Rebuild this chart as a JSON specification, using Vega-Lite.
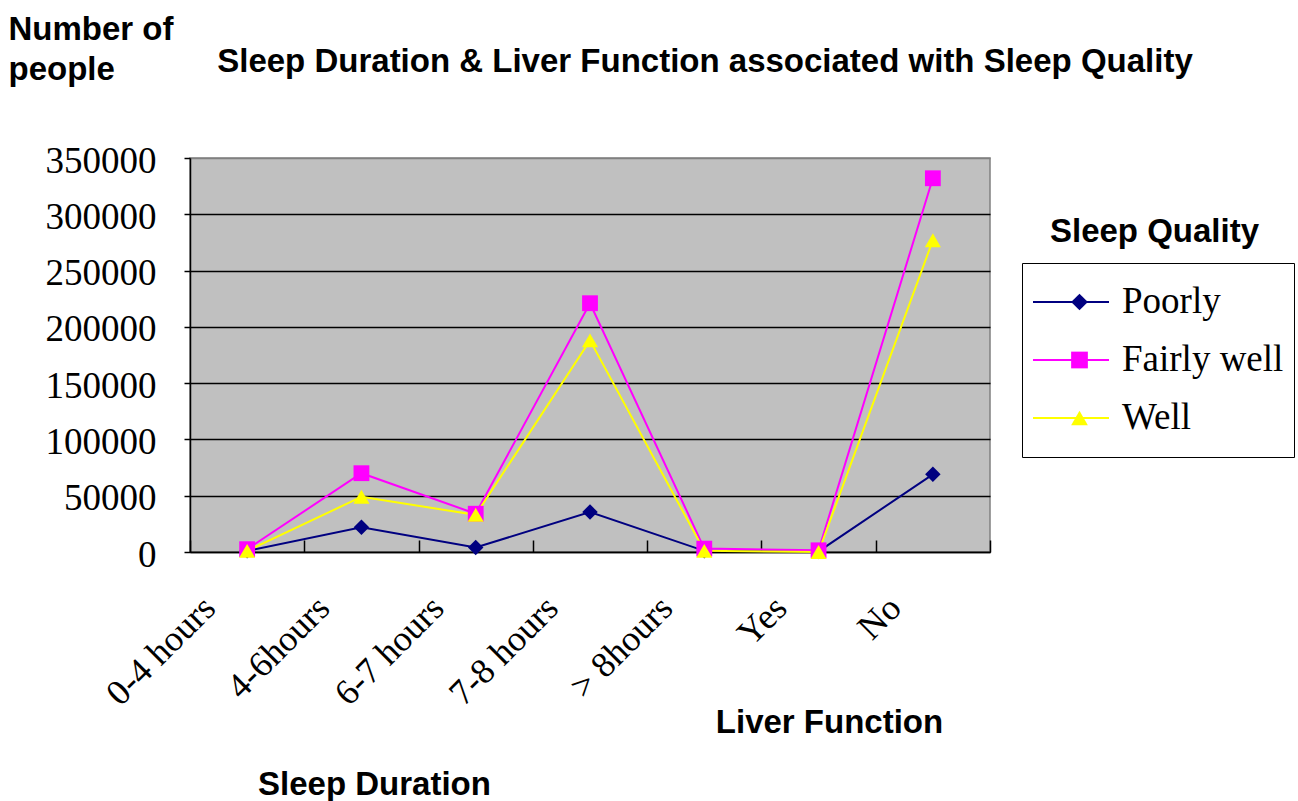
{
  "$schema": "https://vega.github.io/schema/vega-lite/v6.json",
  "width": 800,
  "height": 394,
  "autosize": {"type": "none"},
  "padding": {"left": 190, "top": 158, "right": 308, "bottom": 249},
  "background": "white",
  "title": {
    "text": "Sleep Duration & Liver Function associated with Sleep Quality",
    "font": "Liberation Sans",
    "fontWeight": "bold",
    "fontSize": 33,
    "color": "black",
    "anchor": "middle",
    "dx": 115,
    "baseline": "alphabetic",
    "offset": 0,
    "dy": 92
  },
  "config": {
    "view": {"fill": "#C0C0C0", "stroke": "#808080", "strokeWidth": 1.5},
    "axis": {"labelColor": "black", "titleColor": "black"}
  },
  "data": {
    "values": [
      {"cat": "0-4 hours", "i": 0, "q": "Poorly", "n": 1000},
      {"cat": "4-6hours", "i": 1, "q": "Poorly", "n": 22000},
      {"cat": "6-7 hours", "i": 2, "q": "Poorly", "n": 4000},
      {"cat": "7-8 hours", "i": 3, "q": "Poorly", "n": 35500},
      {"cat": "> 8hours", "i": 4, "q": "Poorly", "n": 1000},
      {"cat": "Yes", "i": 5, "q": "Poorly", "n": 500},
      {"cat": "No", "i": 6, "q": "Poorly", "n": 69000},
      {"cat": "0-4 hours", "i": 0, "q": "Fairly well", "n": 2500},
      {"cat": "4-6hours", "i": 1, "q": "Fairly well", "n": 70000},
      {"cat": "6-7 hours", "i": 2, "q": "Fairly well", "n": 34000},
      {"cat": "7-8 hours", "i": 3, "q": "Fairly well", "n": 221000},
      {"cat": "> 8hours", "i": 4, "q": "Fairly well", "n": 3000},
      {"cat": "Yes", "i": 5, "q": "Fairly well", "n": 1500},
      {"cat": "No", "i": 6, "q": "Fairly well", "n": 332000},
      {"cat": "0-4 hours", "i": 0, "q": "Well", "n": 1000},
      {"cat": "4-6hours", "i": 1, "q": "Well", "n": 49000},
      {"cat": "6-7 hours", "i": 2, "q": "Well", "n": 33000},
      {"cat": "7-8 hours", "i": 3, "q": "Well", "n": 188000},
      {"cat": "> 8hours", "i": 4, "q": "Well", "n": 1000},
      {"cat": "Yes", "i": 5, "q": "Well", "n": 0},
      {"cat": "No", "i": 6, "q": "Well", "n": 277000}
    ]
  },
  "layer": [
    {
      "mark": {"type": "line", "strokeWidth": 2},
      "encoding": {
        "x": {
          "field": "cat", "type": "nominal",
          "sort": ["0-4 hours", "4-6hours", "6-7 hours", "7-8 hours", "> 8hours", "Yes", "No"],
          "scale": {"type": "band", "paddingInner": 0, "paddingOuter": 0},
          "bandPosition": 0.5,
          "axis": {
            "orient": "bottom",
            "title": "Sleep Duration",
            "titleFont": "Liberation Sans", "titleFontWeight": "bold", "titleFontSize": 33,
            "titleX": 184, "titleY": 232, "titleAlign": "center", "titleBaseline": "middle", "titleAnchor": null,
            "labelAngle": -45, "labelAlign": "right", "labelBaseline": "middle",
            "labelFont": "Liberation Serif", "labelFontSize": 36,
            "labelOffset": -38, "labelPadding": 62,
            "labelFlush": false, "labelOverlap": false, "labelBound": false,
            "tickBand": "extent", "tickSize": -12, "tickColor": "black", "tickWidth": 1.5,
            "domainColor": "black", "domainWidth": 1.5, "grid": false
          }
        },
        "y": {
          "field": "n", "type": "quantitative",
          "scale": {"domain": [0, 350000], "nice": false},
          "axis": {
            "orient": "left",
            "values": [0, 50000, 100000, 150000, 200000, 250000, 300000, 350000],
            "format": "d",
            "title": ["Number of", "people"],
            "titleFont": "Liberation Sans", "titleFontWeight": "bold", "titleFontSize": 33,
            "titleAngle": 0, "titleAlign": "left", "titleBaseline": "top", "titleAnchor": null,
            "titleX": -182, "titleY": -145, "titleLineHeight": 40,
            "labelFont": "Liberation Serif", "labelFontSize": 37, "labelPadding": 28, "labelOffset": 3,
            "tickSize": 6, "tickColor": "black", "tickWidth": 1.5,
            "domainColor": "black", "domainWidth": 1.5,
            "grid": true, "gridWidth": 1.5,
            "gridColor": {"condition": {"test": "datum.value >= 350000", "value": "#808080"}, "value": "black"}
          }
        },
        "order": {"field": "i", "type": "quantitative"},
        "color": {
          "field": "q", "type": "nominal",
          "scale": {"domain": ["Poorly", "Fairly well", "Well"], "range": ["#000080", "#FF00FF", "#FFFF00"]},
          "legend": {
            "title": null, "orient": "none", "legendX": 832, "legendY": 105,
            "symbolType": "stroke", "symbolSize": 5776, "symbolStrokeWidth": 2,
            "strokeColor": "black", "padding": 10, "clipHeight": 58, "rowPadding": 0,
            "labelFont": "Liberation Serif", "labelFontSize": 37, "labelColor": "black", "labelOffset": 12,
            "labelLimit": 400
          }
        }
      }
    },
    {
      "mark": {"type": "point", "filled": true, "opacity": 1},
      "encoding": {
        "x": {
          "field": "cat", "type": "nominal",
          "sort": ["0-4 hours", "4-6hours", "6-7 hours", "7-8 hours", "> 8hours", "Yes", "No"],
          "scale": {"type": "band", "paddingInner": 0, "paddingOuter": 0},
          "bandPosition": 0.5,
          "axis": {
            "orient": "bottom",
            "title": "Liver Function",
            "titleFont": "Liberation Sans", "titleFontWeight": "bold", "titleFontSize": 33,
            "titleX": 639, "titleY": 170, "titleAlign": "center", "titleBaseline": "middle", "titleAnchor": null,
            "labels": false, "ticks": false, "domain": false, "grid": false
          }
        },
        "y": {
          "field": "n", "type": "quantitative",
          "axis": {
            "orient": "right",
            "title": "Sleep Quality",
            "titleFont": "Liberation Sans", "titleFontWeight": "bold", "titleFontSize": 33,
            "titleAngle": 0, "titleAlign": "center", "titleBaseline": "middle", "titleAnchor": null,
            "titleX": 164, "titleY": 73,
            "labels": false, "ticks": false, "domain": false, "grid": false
          }
        },
        "size": {
          "field": "q", "type": "nominal",
          "scale": {"domain": ["Poorly", "Fairly well", "Well"], "range": [240, 260, 400]},
          "legend": null
        },
        "color": {
          "field": "q", "type": "nominal",
          "legend": {
            "title": null, "orient": "none", "legendX": 861, "legendY": 105,
            "padding": 10, "clipHeight": 58, "rowPadding": 0, "symbolSize": 280,
            "labelExpr": "''", "labelFontSize": 37
          }
        },
        "shape": {
          "field": "q", "type": "nominal",
          "scale": {"domain": ["Poorly", "Fairly well", "Well"], "range": ["diamond", "square", "triangle-up"]},
          "legend": {
            "title": null, "orient": "none", "legendX": 861, "legendY": 105,
            "padding": 10, "clipHeight": 58, "rowPadding": 0, "symbolSize": 280,
            "labelExpr": "''", "labelFontSize": 37
          }
        }
      }
    }
  ],
  "resolve": {
    "axis": {"x": "independent", "y": "independent"},
    "legend": {"color": "independent", "shape": "independent"}
  }
}
